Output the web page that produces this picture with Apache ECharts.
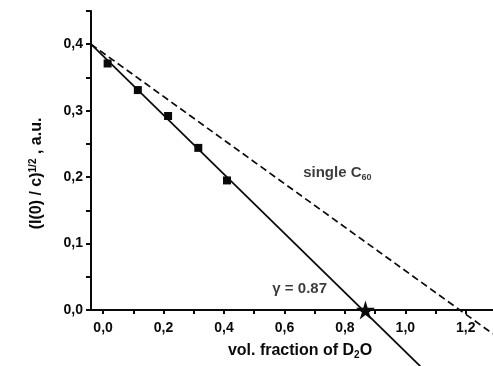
<!DOCTYPE html>
<html>
<head>
<meta charset="utf-8">
<script src="https://cdn.jsdelivr.net/npm/echarts@6/dist/echarts.min.js"></script>
<style>
  html, body { margin: 0; padding: 0; background: #fff; }
  #chart { width: 493px; height: 366px; }
</style>
</head>
<body>
<div id="chart"></div>
<script>
// measured points (squares)
var pointsX = [0.015, 0.115, 0.215, 0.315, 0.41];
var pointsY = [0.371, 0.331, 0.292, 0.244, 0.195];
// fitted line through the points, runs past the x axis
var fitX = [-0.04, 1.05];
var fitY = [0.40, -0.085];
// single C60 reference line (dashed)
var singleX = [-0.04, 1.29];
var singleY = [0.40, -0.036];
// gamma crossing point
var starX = [0.868];
var starY = [0.0];
// tick values
var xTicks = [0, 0.1, 0.2, 0.3, 0.4, 0.5, 0.6, 0.7, 0.8, 0.9, 1.0, 1.1, 1.2];
var xLabels = [0, 0.2, 0.4, 0.6, 0.8, 1.0, 1.2];
var yTicks = [0, 0.05, 0.1, 0.15, 0.2, 0.25, 0.3, 0.35, 0.4, 0.45];
var yLabels = [0, 0.1, 0.2, 0.3, 0.4];
// annotation texts and where they sit
var noteText = ['single C{sub|60}', 'γ = 0.87'];
var noteX = [0.662, 0.56];
var noteY = [0.206, 0.032];

function pairs(xs, ys) {
    var out = [];
    for (var i = 0; i < xs.length; i++) out.push([xs[i], ys[i]]);
    return out;
}
function comma(v) { return v.toFixed(1).replace('.', ','); }

var font = 'Liberation Sans, Arial, sans-serif';
var ink = '#0a0a0a';
var starPath = 'path://M50,0 L61,35 L98,35 L68,57 L79,91 L50,70 L21,91 L32,57 L2,35 L39,35 Z';

var chart = echarts.init(document.getElementById('chart'));
var option = {
    animation: false,
    backgroundColor: '#fff',
    grid: { left: 91, top: 11, right: 0, bottom: 56 },
    xAxis: {
        type: 'value',
        min: -0.04,
        max: 1.29,
        name: 'vol. fraction of D{sub|2}O',
        nameLocation: 'middle',
        nameGap: 32,
        nameTextStyle: {
            color: ink, fontFamily: font, fontSize: 16, fontWeight: 'bold',
            padding: [0, 0, 0, 16],
            rich: { sub: { fontSize: 10, fontWeight: 'bold', fontFamily: font, color: ink, verticalAlign: 'bottom', padding: [8, 0, 0, 0] } }
        },
        axisLine: { onZero: false, lineStyle: { color: ink, width: 2 } },
        axisTick: { show: true, inside: false, length: 4, customValues: xTicks, lineStyle: { color: ink, width: 2 } },
        axisLabel: {
            customValues: xLabels, margin: 11, color: ink,
            fontFamily: font, fontSize: 14, fontWeight: 'bold',
            formatter: comma
        },
        splitLine: { show: false }
    },
    yAxis: {
        type: 'value',
        min: 0,
        max: 0.45,
        name: '(I(0) / c){sup|1/2} , a.u.',
        nameLocation: 'middle',
        nameGap: 45,
        nameTextStyle: {
            color: ink, fontFamily: font, fontSize: 16, fontWeight: 'bold',
            padding: [0, 26, 0, 0],
            rich: { sup: { fontSize: 10, fontWeight: 'bold', fontFamily: font, color: ink, verticalAlign: 'top', padding: [0, 0, 8, 0] } }
        },
        axisLine: { onZero: false, lineStyle: { color: ink, width: 2 } },
        axisTick: { show: true, inside: false, length: 5, customValues: yTicks, lineStyle: { color: ink, width: 2 } },
        axisLabel: {
            customValues: yLabels, margin: 8, color: ink,
            fontFamily: font, fontSize: 14, fontWeight: 'bold',
            formatter: comma
        },
        splitLine: { show: false }
    },
    series: [
        {
            name: 'single',
            type: 'line',
            clip: false,
            symbol: 'none',
            data: pairs(singleX, singleY),
            lineStyle: { color: ink, width: 1.7, type: [7, 4] }
        },
        {
            name: 'fit',
            type: 'line',
            clip: false,
            symbol: 'none',
            data: pairs(fitX, fitY),
            lineStyle: { color: ink, width: 1.7 }
        },
        {
            name: 'points',
            type: 'scatter',
            symbol: 'rect',
            symbolSize: 8,
            itemStyle: { color: ink, opacity: 1 },
            data: pairs(pointsX, pointsY)
        },
        {
            name: 'gamma',
            type: 'scatter',
            symbol: starPath,
            symbolSize: 19,
            itemStyle: { color: ink, opacity: 1 },
            data: pairs(starX, starY)
        },
        {
            name: 'notes',
            type: 'scatter',
            symbolSize: 0,
            data: pairs(noteX, noteY).map(function (p, i) {
                return { value: p, label: { formatter: noteText[i] } };
            }),
            label: {
                show: true,
                position: 'inside',
                align: 'left',
                verticalAlign: 'middle',
                color: ink,
                fontFamily: font,
                fontSize: 15,
                fontWeight: 'bold',
                rich: { sub: { fontSize: 9, fontWeight: 'bold', fontFamily: font, color: ink, verticalAlign: 'bottom', padding: [8, 0, 0, 0] } }
            }
        }
    ]
};
chart.setOption(option);
</script>
</body>
</html>
